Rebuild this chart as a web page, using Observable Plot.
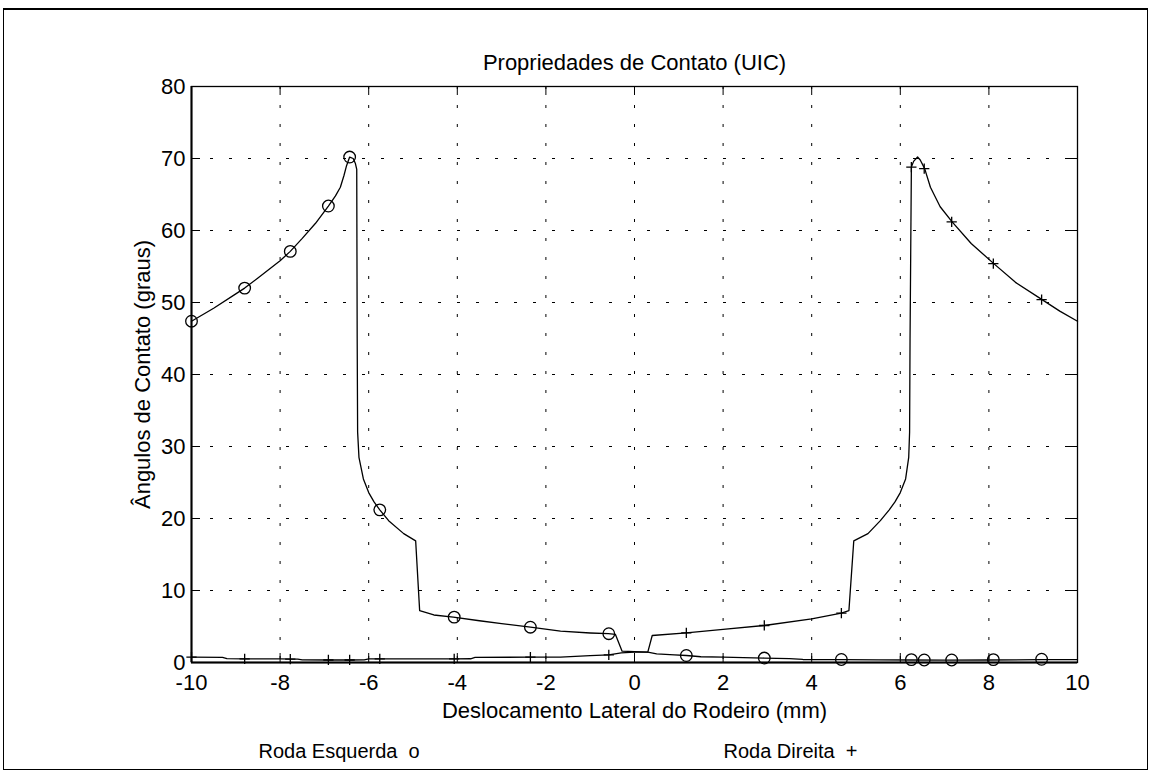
<!DOCTYPE html>
<html><head><meta charset="utf-8">
<script src="https://cdn.jsdelivr.net/npm/d3@7"></script>
<script src="https://cdn.jsdelivr.net/npm/@observablehq/plot@0.6"></script>
<style>
body{margin:0;background:#fff;}
#wrap{position:relative;width:1152px;height:776px;}
#border{position:absolute;left:3px;top:8px;width:1145px;height:762px;border:1px solid #000;border-top:2px solid #000;box-sizing:border-box;pointer-events:none;}
#chart{position:absolute;left:0;top:0;}
</style></head><body>
<div id="wrap"><div id="chart"></div><div id="border"></div></div>
<script>
// Tick values
const xTicks = [-10, -8, -6, -4, -2, 0, 2, 4, 6, 8, 10];
const yTicks = [0, 10, 20, 30, 40, 50, 60, 70, 80];

// Left wheel (o) contact angle
const leftX = [-10, -9.5, -9.0, -8.8, -8.5, -8.0, -7.77, -7.5, -7.2, -6.91, -6.75, -6.64, -6.56, -6.5, -6.43, -6.35, -6.30, -6.27, -6.26, -6.25, -6.22, -6.12, -6.0, -5.88, -5.75, -5.55, -5.21, -4.94, -4.85, -4.53, -4.09, -3.5, -3.0, -2.35, -1.67, -1.0, -0.59, -0.43, -0.28, 0, 0.3, 0.5, 0.9, 1.17, 1.5, 2.0, 2.93, 3.5, 3.8, 4.67, 5.5, 6.25, 7.0, 8.0, 9.19, 10];
const leftY = [47.4, 49.2, 51.2, 52.0, 53.4, 55.8, 57.1, 58.9, 61.0, 63.4, 64.8, 66.0, 67.6, 69.0, 70.2, 70.0, 69.3, 68.5, 45, 32, 28.5, 25.5, 23.6, 22.3, 21.2, 19.7, 17.9, 16.9, 7.2, 6.6, 6.3, 5.8, 5.4, 4.9, 4.35, 4.1, 4.0, 3.9, 1.57, 1.5, 1.45, 1.2, 1.05, 0.97, 0.8, 0.74, 0.62, 0.55, 0.42, 0.4, 0.37, 0.35, 0.33, 0.35, 0.4, 0.4];

// Right wheel (+) contact angle
const rightX = [-10, -9.3, -9.2, -8.8, -8.0, -7.6, -7.5, -6.9, -6.43, -6.1, -6.0, -5.75, -5.0, -4.06, -3.7, -3.6, -2.35, -1.67, -1.0, -0.58, -0.3, 0, 0.3, 0.4, 1.17, 2.0, 2.93, 4.0, 4.67, 4.84, 4.95, 5.27, 5.55, 5.75, 5.88, 6.0, 6.12, 6.19, 6.21, 6.22, 6.25, 6.3, 6.39, 6.45, 6.55, 6.68, 6.9, 7.17, 7.6, 8.11, 8.6, 9.2, 9.6, 10];
const rightY = [0.74, 0.72, 0.55, 0.5, 0.5, 0.47, 0.37, 0.35, 0.35, 0.37, 0.5, 0.5, 0.5, 0.5, 0.52, 0.7, 0.75, 0.74, 0.95, 1.07, 1.35, 1.43, 1.45, 3.75, 4.12, 4.6, 5.14, 6.07, 6.85, 7.2, 16.9, 17.9, 19.7, 21.2, 22.3, 23.6, 25.5, 28.5, 32, 45, 68.8, 69.6, 70.2, 69.8, 68.6, 66.0, 63.3, 61.2, 58.2, 55.4, 52.8, 50.4, 48.8, 47.4];

// Marker positions (same samples for both wheels)
const markX = [-10, -8.8, -7.77, -6.91, -6.43, -5.75, -4.07, -2.35, -0.58, 1.17, 2.93, 4.67, 6.25, 6.54, 7.16, 8.1, 9.19];
const markLeftY = [47.4, 52.0, 57.1, 63.4, 70.2, 21.2, 6.3, 4.9, 4.0, 0.97, 0.62, 0.42, 0.4, 0.35, 0.35, 0.4, 0.45];
const markRightY = [0.74, 0.5, 0.47, 0.35, 0.35, 0.5, 0.5, 0.75, 1.07, 4.12, 5.14, 6.85, 68.8, 68.6, 61.2, 55.4, 50.4];

// Texts
const titleText = "Propriedades de Contato (UIC)";
const xLabel = "Deslocamento Lateral do Rodeiro (mm)";
const yLabel = "Ângulos de Contato (graus)";
const legendLeft = "Roda Esquerda  o";
const legendRight = "Roda Direita  +";

const leftData = leftX.map((x, i) => ({x, y: leftY[i]}));
const rightData = rightX.map((x, i) => ({x, y: rightY[i]}));
const markLeft = markX.map((x, i) => ({x, y: markLeftY[i]}));
const markRight = markX.map((x, i) => ({x, y: markRightY[i]}));

const W = 1152, H = 776, ML = 191, MR = 75, MT = 86, MB = 114;
const PW = W - ML - MR, PH = H - MT - MB;
const TL = 9;
const font = "'Liberation Sans', Arial, Helvetica, sans-serif";

const chart = Plot.plot({
  width: W, height: H,
  marginLeft: ML, marginRight: MR, marginTop: MT, marginBottom: MB,
  style: {fontFamily: font, fontSize: "22px", background: "transparent", color: "#000", overflow: "visible"},
  x: {domain: [-10, 10]},
  y: {domain: [0, 80]},
  marks: [
    Plot.ruleX(xTicks.slice(1, -1), {x: d => d, stroke: "#000", strokeWidth: 1, strokeDasharray: "3,16"}),
    Plot.ruleY(yTicks.slice(1, -1), {y: d => d, stroke: "#000", strokeWidth: 1, strokeDasharray: "3,16"}),
    Plot.tickX(xTicks, {x: d => d, insetTop: PH - TL, stroke: "#000"}),
    Plot.tickX(xTicks, {x: d => d, insetBottom: PH - TL, stroke: "#000"}),
    Plot.tickY(yTicks, {y: d => d, insetRight: PW - TL, stroke: "#000"}),
    Plot.tickY(yTicks, {y: d => d, insetLeft: PW - TL, stroke: "#000"}),
    Plot.frame({stroke: "#000", strokeWidth: 1.3}),
    Plot.axisX({ticks: xTicks, tickSize: 0, tickPadding: 12, tickFormat: d => String(d), label: null, fontSize: 22}),
    Plot.axisY({ticks: yTicks, tickSize: 0, tickPadding: 6, tickFormat: d => String(d), label: null, fontSize: 22}),
    Plot.line(leftData, {x: "x", y: "y", stroke: "#000", strokeWidth: 1.3}),
    Plot.line(rightData, {x: "x", y: "y", stroke: "#000", strokeWidth: 1.3}),
    Plot.ruleX([-10], {x: d => d, stroke: "#000", strokeWidth: 2}),
    Plot.ruleY([0], {y: d => d, stroke: "#000", strokeWidth: 2}),
    Plot.dot(markLeft, {x: "x", y: "y", r: 5.8, stroke: "#000", strokeWidth: 1.3, fill: "none"}),
    Plot.dot(markRight, {x: "x", y: "y", r: 3.4, symbol: "plus", stroke: "#000", strokeWidth: 1.3}),
    Plot.text([titleText], {text: d => d, frameAnchor: "top", dy: -17, lineAnchor: "bottom", textAnchor: "middle", fontSize: 22}),
    Plot.text([xLabel], {text: d => d, frameAnchor: "bottom", dy: 55, lineAnchor: "bottom", textAnchor: "middle", fontSize: 22}),
    Plot.text([yLabel], {text: d => d, frameAnchor: "left", dx: -49, rotate: -90, lineAnchor: "middle", textAnchor: "middle", fontSize: 22}),
    Plot.text([legendLeft], {text: d => d, frameAnchor: "bottom-left", dx: 67, dy: 95, lineAnchor: "bottom", textAnchor: "start", fontSize: 20}),
    Plot.text([legendRight], {text: d => d, frameAnchor: "bottom-left", dx: 532, dy: 95, lineAnchor: "bottom", textAnchor: "start", fontSize: 20})
  ]
});
document.getElementById("chart").appendChild(chart);
</script>
</body></html>
